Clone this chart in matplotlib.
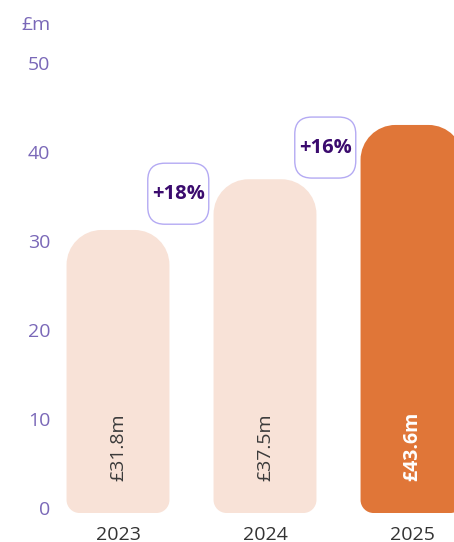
import matplotlib
matplotlib.use("Agg")
import matplotlib.pyplot as plt
from matplotlib.path import Path
from matplotlib.patches import PathPatch, FancyBboxPatch
from matplotlib.transforms import ScaledTranslation
import numpy as np

plt.rcParams['font.family'] = ['Open Sans', 'DejaVu Sans']

years = ["2023", "2024", "2025"]
values = [31.8, 37.5, 43.6]
value_labels = ["£31.8m", "£37.5m", "£43.6m"]
growth_labels = ["+18%", "+16%"]
yticks = [0, 10, 20, 30, 40, 50]
unit_label = "£m"

light = "#f8e2d7"
orange = "#e07638"
purple_tick = "#7a68b8"
badge_text = "#3b0b6e"
badge_edge = "#b4aaf3"

W, H = 454, 542
fig = plt.figure(figsize=(W / 100, H / 100), dpi=100)
ax = fig.add_axes([60 / W, 29 / H, 394 / W, 445 / H])
ax.set_ylim(0, 50)
ax.set_xlim((60 - 118) / 147, (454 - 118) / 147)
for s in ax.spines.values():
    s.set_visible(False)

bar_w = 0.7
px_x = 147.0
px_y = 445.0 / 50


def rounded_bar(x0, x1, y0, y1, rt_px, rb_px):
    rtx, rty = rt_px / px_x, rt_px / px_y
    rbx, rby = rb_px / px_x, rb_px / px_y
    k = 0.5523
    verts = [
        (x0, y0 + rby),
        (x0, y1 - rty),
        (x0, y1 - rty + k * rty), (x0 + rtx - k * rtx, y1), (x0 + rtx, y1),
        (x1 - rtx, y1),
        (x1 - rtx + k * rtx, y1), (x1, y1 - rty + k * rty), (x1, y1 - rty),
        (x1, y0 + rby),
        (x1, y0 + rby - k * rby), (x1 - rbx + k * rbx, y0), (x1 - rbx, y0),
        (x0 + rbx, y0),
        (x0 + rbx - k * rbx, y0), (x0, y0 + rby - k * rby), (x0, y0 + rby),
        (x0, y0 + rby),
    ]
    codes = [Path.MOVETO, Path.LINETO,
             Path.CURVE4, Path.CURVE4, Path.CURVE4,
             Path.LINETO,
             Path.CURVE4, Path.CURVE4, Path.CURVE4,
             Path.LINETO,
             Path.CURVE4, Path.CURVE4, Path.CURVE4,
             Path.LINETO,
             Path.CURVE4, Path.CURVE4, Path.CURVE4,
             Path.CLOSEPOLY]
    return Path(verts, codes)


xs = np.arange(len(years))
for i, (x, v) in enumerate(zip(xs, values)):
    last = i == len(values) - 1
    col = orange if last else light
    p = rounded_bar(x - bar_w / 2, x + bar_w / 2, 0, v, 35, 13)
    ax.add_patch(PathPatch(p, facecolor=col, edgecolor='none', clip_on=False))
    ax.text(x, 3.6, value_labels[i], rotation=90, ha='center', va='bottom',
            fontsize=14, color='white' if last else '#3a3a3a',
            fontweight='bold' if last else 'normal')

# growth badges (drawn in inches around a data anchor)
size_in = 0.61
for i, g in enumerate(growth_labels):
    bx = xs[i] + 0.41
    by = values[i + 1] * 0.85 + 4.0
    tr = fig.dpi_scale_trans + ScaledTranslation(bx, by, ax.transData)
    box = FancyBboxPatch((-size_in / 2, -size_in / 2), size_in, size_in,
                         boxstyle="round,pad=0,rounding_size=0.17",
                         transform=tr,
                         facecolor='white', edgecolor=badge_edge, linewidth=1.0,
                         clip_on=False, zorder=3)
    ax.add_patch(box)
    ax.text(bx, by, g, ha='center', va='center', fontsize=14.5,
            fontweight='bold', color=badge_text, zorder=4)

ax.set_xticks(xs)
ax.set_xticklabels(years, fontsize=14, color='#333333')
ax.set_yticks(yticks)
ax.set_yticklabels([str(t) for t in yticks], fontsize=14, color=purple_tick)
ax.tick_params(axis='both', length=0)
ax.tick_params(axis='y', pad=7)
ax.tick_params(axis='x', pad=9)
off = ScaledTranslation(0, 5 / 100, fig.dpi_scale_trans)
for lab in ax.get_yticklabels():
    lab.set_transform(lab.get_transform() + off)

fig.text(36 / W, 1 - 25 / H, unit_label, ha='center', va='center',
         fontsize=14, color=purple_tick)

fig.savefig("out.png", dpi=100)
